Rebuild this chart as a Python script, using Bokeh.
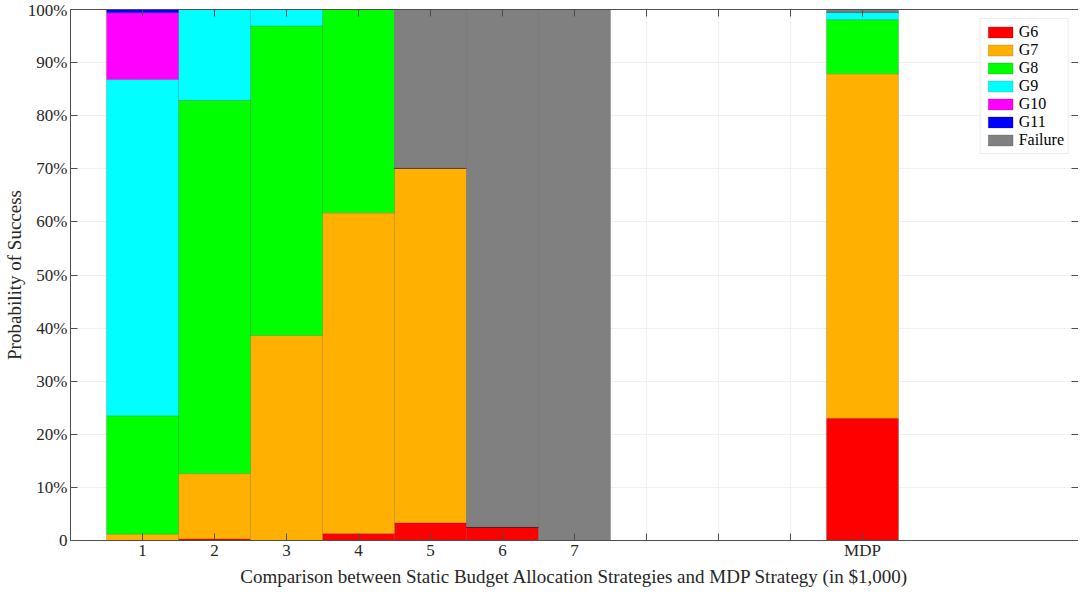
from bokeh.plotting import figure
from bokeh.models import ColumnDataSource, FixedTicker, LinearAxis, Range1d, Legend
from bokeh.embed import file_html
from bokeh.resources import INLINE

positions = [1, 2, 3, 4, 5, 6, 7, 11]
tick_positions = [1, 2, 3, 4, 5, 6, 7, 8, 9, 10, 11]
tick_labels = ["1", "2", "3", "4", "5", "6", "7", "", "", "", "MDP"]
series_names = ["G6", "G7", "G8", "G9", "G10", "G11", "Failure"]
G6 = [0.0, 0.3, 0.0, 1.3, 3.3, 2.5, 0.0, 23.0]
G7 = [1.2, 12.3, 38.6, 60.4, 66.8, 0.0, 0.0, 64.9]
G8 = [22.3, 70.3, 58.3, 38.3, 0.0, 0.0, 0.0, 10.2]
G9 = [63.3, 17.1, 3.1, 0.0, 0.0, 0.0, 0.0, 1.4]
G10 = [12.6, 0.0, 0.0, 0.0, 0.0, 0.0, 0.0, 0.0]
G11 = [0.6, 0.0, 0.0, 0.0, 0.0, 0.0, 0.0, 0.0]
Failure = [0.0, 0.0, 0.0, 0.0, 29.9, 97.5, 100.0, 0.5]
y_ticks = [0, 10, 20, 30, 40, 50, 60, 70, 80, 90, 100]
y_tick_labels = ["0", "10%", "20%", "30%", "40%", "50%", "60%", "70%", "80%", "90%", "100%"]
colors = ["#ff0000", "#ffb000", "#00ff00", "#00ffff", "#ff00ff", "#0000ff", "#808080"]

source = ColumnDataSource(data=dict(x=positions, G6=G6, G7=G7, G8=G8, G9=G9,
                                    G10=G10, G11=G11, Failure=Failure))

FONT = "Liberation Serif"
AX = "#4d4d4d"

p = figure(frame_width=1008, frame_height=531, output_backend="svg", toolbar_location=None,
           x_range=Range1d(0, 14), y_range=Range1d(0, 100),
           min_border_left=62, min_border_right=0, min_border_top=9, min_border_bottom=0)
p.outline_line_color = None

rs = p.vbar_stack(series_names, x="x", width=1.0, source=source, color=colors,
                  line_color="black", line_alpha=0.25, line_width=0.6)

def style_axis(ax, labels=True):
    ax.axis_line_color = AX
    ax.major_tick_line_color = AX
    ax.major_tick_in = 7
    ax.major_tick_out = 0
    ax.minor_tick_line_color = None
    ax.major_label_text_font = FONT
    ax.major_label_text_font_size = "17px"
    ax.major_label_text_color = "#262626"
    ax.axis_label_text_font = FONT
    ax.axis_label_text_font_size = "19px"
    ax.axis_label_text_font_style = "normal"
    ax.axis_label_text_color = "#262626"
    if not labels:
        ax.major_label_text_font_size = "0px"

xt = FixedTicker(ticks=tick_positions)
yt = FixedTicker(ticks=y_ticks)
p.xaxis.ticker = xt
p.yaxis.ticker = yt
p.xaxis.major_label_overrides = {k: v for k, v in zip(tick_positions, tick_labels)}
p.yaxis.major_label_overrides = {k: v for k, v in zip(y_ticks, y_tick_labels)}
p.xaxis.axis_label = "Comparison between Static Budget Allocation Strategies and MDP Strategy (in $1,000)"
p.yaxis.axis_label = "Probability of Success"
style_axis(p.xaxis[0])
style_axis(p.yaxis[0])
p.xaxis.axis_label_standoff = 3
p.yaxis.axis_label_standoff = 0
p.xaxis.major_label_standoff = 0
p.yaxis.major_label_standoff = 3

top_ax = LinearAxis(ticker=FixedTicker(ticks=tick_positions))
style_axis(top_ax, labels=False)
top_ax.major_label_overrides = {k: "" for k in tick_positions}
top_ax.major_label_standoff = 0
right_ax = LinearAxis(ticker=FixedTicker(ticks=y_ticks))
style_axis(right_ax, labels=False)
right_ax.major_label_overrides = {k: "" for k in y_ticks}
right_ax.major_label_standoff = 0
p.add_layout(top_ax, "above")
p.add_layout(right_ax, "right")

p.xgrid.ticker = xt
p.ygrid.ticker = yt
p.xgrid.grid_line_color = "#ececec"
p.ygrid.grid_line_color = "#ececec"
p.xgrid.grid_line_width = 0.8
p.ygrid.grid_line_width = 0.8

legend = Legend(items=[(name, [r]) for name, r in zip(series_names, rs)],
                location="top_right")
legend.label_text_font = FONT
legend.label_text_font_size = "16px"
legend.label_text_color = "#000000"
legend.glyph_width = 31
legend.glyph_height = 14
legend.label_height = 14
legend.spacing = 0
legend.padding = 4
legend.margin = 9
legend.label_standoff = 3
legend.border_line_color = "#d9d9d9"
legend.background_fill_alpha = 1.0
p.add_layout(legend, "center")

open("out.html", "w").write(file_html(p, INLINE))
